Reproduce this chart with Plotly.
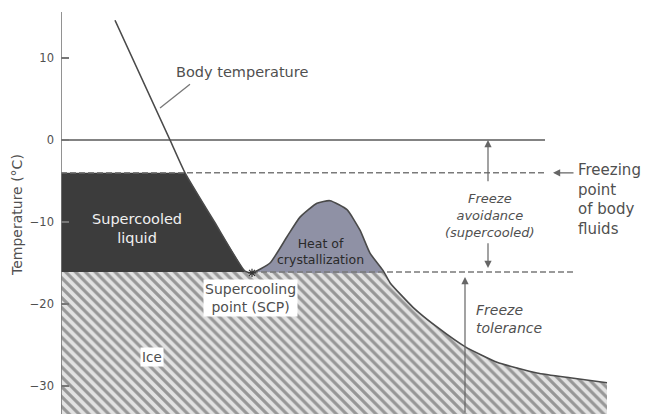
import plotly.graph_objects as go

# Body temperature trace during cooling (arbitrary time units, deg C)
time = [10.8, 21.8, 24.8, 30.7, 36.8, 38.2, 41.8, 45.2, 47.8, 51.2, 53.8,
        57.2, 59.8, 61.8, 64.4, 65.8, 70.4, 75.2, 80.8, 87.2, 95.2, 101.8, 109.2]
temp = [14.6, 0.0, -4.0, -10.0, -16.0, -16.2, -15.0, -11.8, -9.4, -7.7, -7.4,
        -8.5, -11.0, -13.8, -15.9, -17.4, -20.4, -22.8, -25.2, -27.1, -28.4, -29.0, -29.6]

MELT_PT = 0.0          # freezing point of pure water
FREEZE_PT = -4.0       # freezing point of body fluids
SCP = -16.1            # supercooling point
Y_TOP, Y_BOT = 17.07, -33.41
X_MAX = 117.0
AXIS_TOP = 15.6

tick_vals = [10, 0, -10, -20, -30]
tick_text = ["10", "0", "\u221210", "\u221220", "\u221230"]

i_scp = temp.index(min(temp[:10]))                      # supercooling point
i_end = next(i for i in range(i_scp + 2, len(temp)) if temp[i] <= SCP + 0.3)

INK = "#4a4a4a"
TXT = "#505050"
FONT = "DejaVu Sans"

fig = go.Figure()

# Ice: hatched region below the SCP and under the cooling curve
hx = [0, time[i_end]] + time[i_end + 1:] + [time[-1], 0]
hy = [SCP, SCP] + temp[i_end + 1:] + [Y_BOT, Y_BOT]
fig.add_trace(go.Scatter(
    x=hx, y=hy, mode="lines", fill="toself", line=dict(width=0),
    fillcolor="rgba(0,0,0,0)",
    fillpattern=dict(shape="\\", fgcolor="#4c4c4c", bgcolor="#e2e2e2",
                     size=7, solidity=0.45),
    hoverinfo="skip", showlegend=False))

# Supercooled liquid: between freezing point and SCP, left of the body line
sx = [0] + [t for t, v in zip(time[:i_scp], temp[:i_scp]) if v <= FREEZE_PT] + [time[i_scp - 1], 0]
sy = [FREEZE_PT] + [v for v in temp[:i_scp] if v <= FREEZE_PT] + [SCP, SCP]
fig.add_trace(go.Scatter(
    x=sx, y=sy, mode="lines", fill="toself", line=dict(width=0),
    fillcolor="#3c3c3c", hoverinfo="skip", showlegend=False))

# Heat of crystallization: the rebound above the SCP
bx = time[i_scp:i_end + 1]
by = temp[i_scp:i_end + 1]
fig.add_trace(go.Scatter(
    x=bx + [bx[-1], bx[0]], y=by + [SCP, SCP], mode="lines", fill="toself",
    line=dict(width=0, shape="spline", smoothing=0.5), fillcolor="#8f91a5",
    hoverinfo="skip", showlegend=False))

# Reference levels
fig.add_trace(go.Scatter(x=[0, 96.8], y=[MELT_PT, MELT_PT], mode="lines",
                         line=dict(color="#5a5a5a", width=1.6),
                         hoverinfo="skip", showlegend=False))
fig.add_trace(go.Scatter(x=[0, 96.8], y=[FREEZE_PT, FREEZE_PT], mode="lines",
                         line=dict(color="#7a7a7a", width=1.6, dash="6px,3px"),
                         hoverinfo="skip", showlegend=False))
fig.add_trace(go.Scatter(x=[time[i_scp], 102.4], y=[SCP, SCP], mode="lines",
                         line=dict(color="#7a7a7a", width=1.6, dash="6px,3px"),
                         hoverinfo="skip", showlegend=False))

# Body temperature curve
fig.add_trace(go.Scatter(x=time, y=temp, mode="lines",
                         line=dict(color=INK, width=1.6, shape="spline", smoothing=0.5),
                         hoverinfo="skip", showlegend=False))
fig.add_trace(go.Scatter(x=[time[i_scp]], y=[temp[i_scp]], mode="markers",
                         marker=dict(symbol="asterisk-open", size=7, color="#333",
                                     line=dict(color="#333", width=1.2)),
                         hoverinfo="skip", showlegend=False))

# y axis line
fig.add_trace(go.Scatter(x=[0, 0], y=[AXIS_TOP, Y_BOT], mode="lines",
                         line=dict(color="#777", width=1.6),
                         hoverinfo="skip", showlegend=False))

# Leader for the body temperature label
fig.add_trace(go.Scatter(x=[19.8, 25.8], y=[3.9, 6.8], mode="lines",
                         line=dict(color="#777", width=1.3),
                         hoverinfo="skip", showlegend=False))

ann = []


def label(x, y, text, size=13, color=TXT, xanchor="center", align="center", bg=None):
    d = dict(x=x, y=y, xref="x", yref="y", text=text, showarrow=False,
             font=dict(family=FONT, size=size, color=color),
             xanchor=xanchor, yanchor="middle", align=align)
    if bg:
        d["bgcolor"] = bg
        d["borderpad"] = 1
    ann.append(d)


def arrow(x0, y0, x1, y1):
    ann.append(dict(x=x1, y=y1, ax=x0, ay=y0, xref="x", yref="y", axref="x", ayref="y",
                    text="", showarrow=True, arrowhead=2, arrowsize=1.2,
                    arrowwidth=1.2, arrowcolor="#666"))


label(22.6, 8.3, "Body temperature", size=14.5, xanchor="left")
label(15.2, -10.85, "Supercooled<br>liquid", size=14.5, color="#f0f0f0")
label(51.8, -13.6, "Heat of<br>crystallization", size=12.5, color="#2a2a2a")
label(37.8, -19.3, "Supercooling<br>point (SCP)", size=14, bg="#ffffff")
label(18.2, -26.5, "Ice", size=13.5, bg="#ffffff")
label(85.8, -9.15, "<i>Freeze<br>avoidance<br>(supercooled)</i>", size=13)
label(82.6, -21.8, "<i>Freeze<br>tolerance</i>", size=14, xanchor="left", align="left")
label(103.0, -7.3, "Freezing<br>point<br>of body<br>fluids", size=15,
      xanchor="left", align="left")

arrow(85.4, -5.2, 85.4, MELT_PT)
arrow(85.4, -12.4, 85.4, -15.6)
arrow(80.8, Y_BOT, 80.8, -16.7)
arrow(102.8, FREEZE_PT, 98.4, FREEZE_PT)

ann.append(dict(x=-0.075, y=0.481, xref="paper", yref="paper", text="Temperature (\u00b0C)",
                textangle=-90, showarrow=False, xanchor="center", yanchor="middle",
                font=dict(family=FONT, size=14, color=TXT)))

fig.update_layout(
    width=646, height=414,
    margin=dict(l=61, r=0, t=0, b=0),
    paper_bgcolor="white", plot_bgcolor="white",
    annotations=ann,
    xaxis=dict(range=[0, X_MAX], visible=False, fixedrange=True),
    yaxis=dict(range=[Y_BOT, Y_TOP], showgrid=False, zeroline=False, showline=False,
               tickvals=tick_vals, ticktext=tick_text, ticks="inside", ticklen=8,
               tickwidth=1.5, tickcolor="#777", ticklabelstandoff=6,
               tickfont=dict(family=FONT, size=11.5, color=TXT)),
)

fig.write_html("out.html")
